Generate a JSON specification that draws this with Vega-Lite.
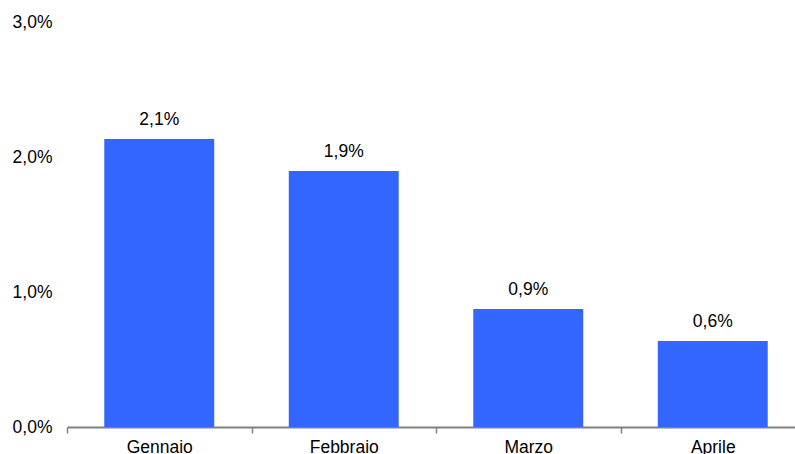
{
  "$schema": "https://vega.github.io/schema/vega-lite/v6.json",
  "autosize": {"type": "none"},
  "padding": {"left": 67, "top": 22, "right": 0, "bottom": 27},
  "width": 738,
  "height": 405,
  "background": "white",
  "config": {
    "view": {"stroke": null},
    "locale": {"number": {"decimal": ",", "thousands": ".", "grouping": [3], "currency": ["€", ""]}},
    "font": "Liberation Sans"
  },
  "data": {
    "values": [
      {"mese": "Gennaio", "valore": 0.02133},
      {"mese": "Febbraio", "valore": 0.01896},
      {"mese": "Marzo", "valore": 0.00874},
      {"mese": "Aprile", "valore": 0.00637}
    ]
  },
  "encoding": {
    "x": {
      "field": "mese", "type": "nominal", "sort": null,
      "scale": {"paddingInner": 0, "paddingOuter": 0},
      "axis": {
        "title": null, "labelAngle": 0, "labelFontSize": 17.5, "labelColor": "black",
        "labelFont": "Liberation Sans", "labelPadding": 5,
        "tickBand": "extent", "tickColor": "#808080", "tickSize": 6, "tickWidth": 1.5,
        "domainColor": "#808080", "domainWidth": 2
      }
    },
    "y": {
      "field": "valore", "type": "quantitative",
      "scale": {"domain": [0, 0.03], "nice": false},
      "axis": {
        "title": null, "values": [0, 0.01, 0.02, 0.03], "format": ".1%",
        "grid": false, "domain": false, "ticks": false,
        "labelFontSize": 17.5, "labelColor": "black", "labelFont": "Liberation Sans",
        "labelPadding": 15
      }
    }
  },
  "layer": [
    {"mark": {"type": "bar", "color": "#3366FF", "width": {"band": 0.596}}},
    {
      "mark": {"type": "text", "baseline": "bottom", "dy": -10, "fontSize": 17.5, "color": "black", "font": "Liberation Sans"},
      "encoding": {"text": {"field": "valore", "type": "quantitative", "format": ".1%"}}
    }
  ]
}
